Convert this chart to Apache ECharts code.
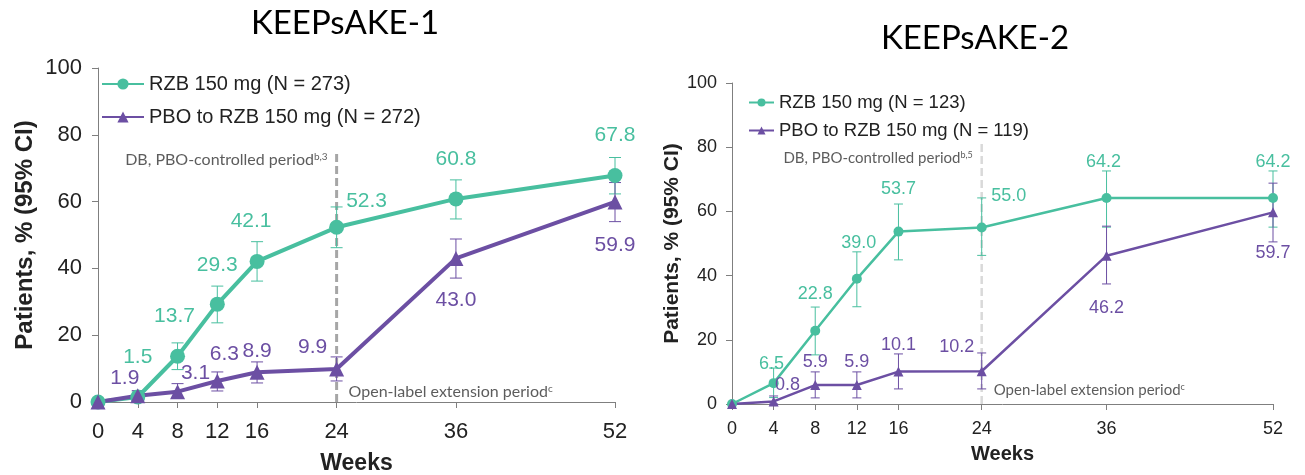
<!DOCTYPE html>
<html>
<head>
<meta charset="utf-8">
<script src="https://cdn.jsdelivr.net/npm/echarts@6/dist/echarts.min.js"></script>
<style>
  html, body { margin: 0; padding: 0; background: #fff; }
  #chart { width: 1305px; height: 475px; }
</style>
</head>
<body>
<div id="chart"></div>
<script>
// Weeks on the x axis (both studies)
const weeks = [0, 4, 8, 12, 16, 24, 36, 52];
const weekTicks = [0, 4, 8, 12, 16, 24, 36, 52];

// KEEPsAKE-1
const rzb1 = [0, 1.5, 13.7, 29.3, 42.1, 52.3, 60.8, 67.8];
const rzb1Low = [null, 0.3, 9.7, 23.7, 36.2, 46.2, 54.8, 62.3];
const rzb1High = [null, 3.0, 17.7, 34.7, 48.0, 58.4, 66.5, 73.2];
const pbo1 = [0, 1.9, 3.1, 6.3, 8.9, 9.9, 43.0, 59.9];
const pbo1Low = [null, 0.5, 1.2, 3.3, 5.7, 6.3, 37.1, 54.0];
const pbo1High = [null, 3.4, 5.5, 9.0, 12.0, 13.5, 48.8, 65.7];

// KEEPsAKE-2
const rzb2 = [0, 6.5, 22.8, 39.0, 53.7, 55.0, 64.2, 64.2];
const rzb2Low = [null, 2.0, 15.3, 30.3, 44.9, 46.3, 55.1, 55.1];
const rzb2High = [null, 11.2, 30.2, 47.4, 62.3, 64.2, 72.6, 72.6];
const pbo2 = [0, 0.8, 5.9, 5.9, 10.1, 10.2, 46.2, 59.7];
const pbo2Low = [null, 0, 1.9, 1.9, 4.7, 4.7, 37.4, 50.5];
const pbo2High = [null, 2.5, 10.0, 10.0, 15.6, 15.9, 55.4, 68.8];

const names1 = ['RZB 150 mg (N = 273)', 'PBO to RZB 150 mg (N = 272)'];
const names2 = ['RZB 150 mg (N = 123)', 'PBO to RZB 150 mg (N = 119)'];
const periodWeek = 24;

// label placement (offset from point centre, px) -- styling only
const lbl1Rzb = [null, [0, -40], [-3, -40], [0, -39], [-6, -40], [30, -26], [0, -40], [0, -40]];
const lbl1Pbo = [null, [-13, -17], [18, -18], [7, -27], [0, -21], [-24, -22], [0, 42], [0, 43]];
const lbl2Rzb = [null, [-2, -19], [0, -37], [2, -36], [0, -43], [27, -31], [-3, -36], [0, -36]];
const lbl2Pbo = [null, [14, -16], [0, -23], [0, -23], [0, -27], [-25, -24], [0, 52], [0, 41]];

const GREEN = '#48bf9f';
const PURPLE = '#6c4fa3';
const NARROW = "'Liberation Sans Narrow', 'Liberation Sans', Arial, sans-serif";
const SANS = "'Liberation Sans', Arial, sans-serif";
const CAL = "Lato, 'Open Sans', sans-serif";

const chart = echarts.init(document.getElementById('chart'));

function pointData(vals, offs, fontSize, fontFamily) {
  return weeks.map((w, i) => ({
    value: [w, vals[i]],
    label: offs[i]
      ? { show: true, position: 'inside', offset: offs[i], fontSize, fontFamily }
      : { show: false },
  }));
}

function errData(low, high) {
  return weeks.map((w, i) => (low[i] == null ? null : [w, low[i], high[i]])).filter(Boolean);
}

function errSeries(idx, low, high, color, capW) {
  return {
    type: 'custom',
    xAxisIndex: idx,
    yAxisIndex: idx,
    z: 1,
    silent: true,
    encode: { x: 0, y: [1, 2] },
    data: errData(low, high),
    renderItem(params, api) {
      const x = api.value(0);
      const lo = api.coord([x, api.value(1)]);
      const hi = api.coord([x, api.value(2)]);
      const st = { stroke: color, lineWidth: 1 };
      return {
        type: 'group',
        children: [
          { type: 'line', shape: { x1: lo[0], y1: lo[1], x2: hi[0], y2: hi[1] }, style: st },
          { type: 'line', shape: { x1: hi[0] - capW / 2, y1: hi[1], x2: hi[0] + capW / 2, y2: hi[1] }, style: st },
          { type: 'line', shape: { x1: lo[0] - capW / 2, y1: lo[1], x2: lo[0] + capW / 2, y2: lo[1] }, style: st },
        ],
      };
    },
  };
}

function lineSeries(idx, name, vals, offs, color, symbol, symbolSize, width, fontSize, fontFamily) {
  return {
    type: 'line',
    name,
    xAxisIndex: idx,
    yAxisIndex: idx,
    z: 3,
    symbol,
    symbolSize,
    itemStyle: { color },
    lineStyle: { color, width },
    label: { color, formatter: (p) => p.value[1].toFixed(1) },
    data: pointData(vals, offs, fontSize, fontFamily),
  };
}

function periodLine(idx, top, color, width, dash) {
  return {
    type: 'line',
    xAxisIndex: idx,
    yAxisIndex: idx,
    z: 0,
    silent: true,
    symbol: 'none',
    lineStyle: { color, width, type: dash },
    data: [[periodWeek, 0], [periodWeek, top]],
  };
}

function annotations(idx, topY, botY, sup, fontSize) {
  const rich = {
    t: { fontFamily: CAL, fontSize, color: '#333' },
    s: { fontFamily: CAL, fontSize: Math.round(fontSize * 0.6), color: '#333', verticalAlign: 'top', padding: [0, 0, 6, 0] },
  };
  return {
    type: 'scatter',
    xAxisIndex: idx,
    yAxisIndex: idx,
    silent: true,
    symbolSize: 0,
    data: [
      { value: [periodWeek, topY], label: { show: true, position: 'left', distance: 9, formatter: '{t|DB, PBO-controlled period}{s|' + sup + '}', rich } },
      { value: [periodWeek, botY], label: { show: true, position: 'right', distance: 12, formatter: '{t|Open-label extension period}{s|c}', rich } },
    ],
  };
}

function xAxis(idx, fontSize, margin, nameSize, nameGap, family) {
  return {
    gridIndex: idx,
    type: 'value',
    min: 0,
    max: 52,
    name: 'Weeks',
    nameLocation: 'middle',
    nameGap,
    nameTextStyle: { fontFamily: SANS, fontWeight: 'bold', fontSize: nameSize, color: '#222' },
    axisLine: { lineStyle: { color: '#7f7f7f', width: 1 } },
    axisTick: { show: true, length: 6, customValues: weekTicks, lineStyle: { color: '#7f7f7f' } },
    axisLabel: { customValues: weekTicks, fontSize, fontFamily: family, color: '#222', margin },
    splitLine: { show: false },
  };
}

function yAxis(idx, fontSize, margin, nameSize, nameGap, family) {
  return {
    gridIndex: idx,
    type: 'value',
    min: 0,
    max: 100,
    interval: 20,
    name: 'Patients, % (95% CI)',
    nameLocation: 'middle',
    nameGap,
    nameTextStyle: { fontFamily: SANS, fontWeight: 'bold', fontSize: nameSize, color: '#222' },
    axisLine: { show: true, lineStyle: { color: '#7f7f7f', width: 1 } },
    axisTick: { show: true, length: 6, lineStyle: { color: '#7f7f7f' } },
    axisLabel: { fontSize, fontFamily: family, color: '#222', margin },
    splitLine: { show: false },
  };
}

chart.setOption({
  animation: false,
  backgroundColor: '#fff',
  title: [
    { text: 'KEEPsAKE-1', left: 340, top: 2, textAlign: 'center',
      textStyle: { fontFamily: CAL, fontWeight: 'normal', fontSize: 33, color: '#000' } },
    { text: 'KEEPsAKE-2', left: 970, top: 17, textAlign: 'center',
      textStyle: { fontFamily: CAL, fontWeight: 'normal', fontSize: 33, color: '#000' } },
  ],
  legend: [
    { data: names1, orient: 'vertical', left: 96, top: 69, itemWidth: 42, itemHeight: 14, itemGap: 13,
      textStyle: { fontFamily: SANS, fontSize: 20, color: '#222' } },
    { data: names2, orient: 'vertical', left: 743, top: 88, itemWidth: 25, itemHeight: 10, itemGap: 9,
      textStyle: { fontFamily: SANS, fontSize: 18.5, color: '#222' } },
  ],
  grid: [
    { left: 98, top: 68, width: 517, height: 334, outerBoundsMode: 'none' },
    { left: 732, top: 83, width: 541, height: 321, outerBoundsMode: 'none' },
  ],
  xAxis: [
    xAxis(0, 22, 19, 23, 50, SANS),
    xAxis(1, 18, 16, 20, 40, SANS),
  ],
  yAxis: [
    yAxis(0, 22, 16, 24, 61, SANS),
    yAxis(1, 18, 15, 21, 48, SANS),
  ],
  series: [
    periodLine(0, 74.5, '#a6a6a6', 3, [8, 4]),
    periodLine(1, 81, '#d9d9d9', 2.5, [8, 4]),
    annotations(0, 72.5, 3, 'b,3', 16),
    annotations(1, 76.6, 4.4, 'b,5', 15),
    errSeries(0, rzb1Low, rzb1High, GREEN, 12),
    errSeries(0, pbo1Low, pbo1High, PURPLE, 12),
    errSeries(1, rzb2Low, rzb2High, GREEN, 9),
    errSeries(1, pbo2Low, pbo2High, PURPLE, 9),
    lineSeries(0, names1[0], rzb1, lbl1Rzb, GREEN, 'circle', 15, 4, 21, NARROW),
    lineSeries(0, names1[1], pbo1, lbl1Pbo, PURPLE, 'triangle', 15, 4, 21, NARROW),
    lineSeries(1, names2[0], rzb2, lbl2Rzb, GREEN, 'circle', 10, 2.5, 18, SANS),
    lineSeries(1, names2[1], pbo2, lbl2Pbo, PURPLE, 'triangle', 10, 2.5, 18, SANS),
  ],
});

window.addEventListener('resize', () => chart.resize());
</script>
</body>
</html>
